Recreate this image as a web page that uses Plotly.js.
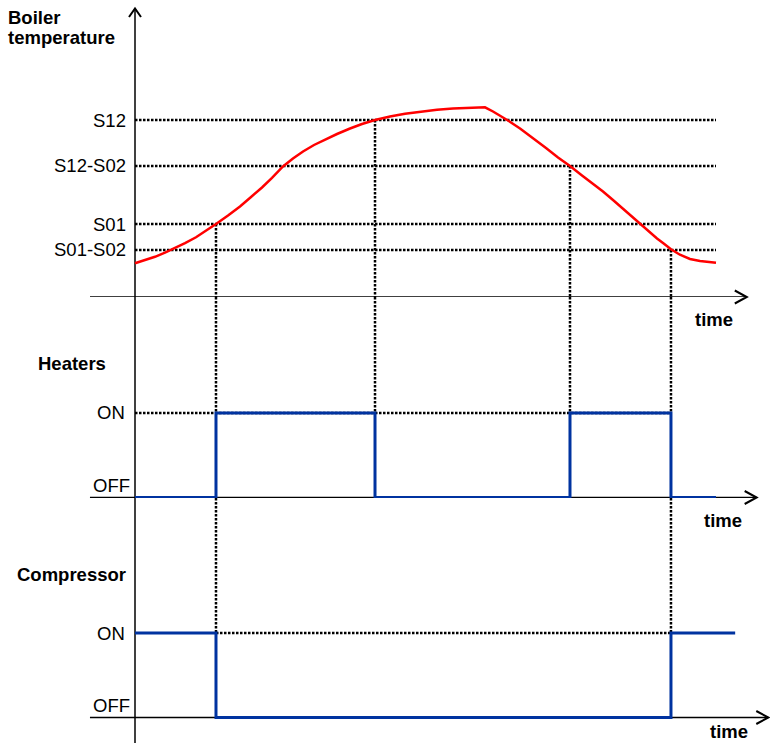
<!DOCTYPE html>
<html><head><meta charset="utf-8">
<script src="https://cdn.plot.ly/plotly-3.0.1.min.js"></script>
<style>html,body{margin:0;padding:0;background:#fff}#chart{width:770px;height:743px}</style>
</head><body><div id="chart"></div>
<script>
// ---- data ----
const time = [0, 1.72, 3.44, 5.16, 6.88, 8.61, 10.50, 12.22, 13.94, 16.01, 18.07, 19.97, 21.86, 23.58, 25.47, 27.19, 28.92, 30.81, 32.70, 34.77, 37.01, 39.07, 41.31, 43.89, 46.47, 49.05, 51.98, 54.73, 57.66, 60.24, 61.62, 62.82, 64.20, 66.27, 68.50, 70.74, 72.81, 74.87, 76.94, 78.83, 80.55, 82.27, 84.34, 86.57, 88.30, 89.85, 91.05, 92.25, 93.80, 95.52, 97.25, 98.62, 100];
const boilerTemp = [11.23, 12.27, 13.40, 14.80, 16.27, 17.93, 19.90, 22.00, 24.33, 27.17, 30.17, 33.33, 36.50, 39.73, 43.50, 46.17, 48.50, 50.67, 52.50, 54.33, 56.17, 57.67, 59.00, 60.17, 61.07, 61.77, 62.40, 62.83, 63.10, 63.23, 61.83, 60.50, 58.83, 56.17, 53.00, 49.67, 46.50, 43.67, 40.50, 37.83, 35.17, 32.33, 28.83, 24.83, 21.93, 19.50, 17.73, 15.90, 14.10, 12.67, 12.00, 11.60, 11.40];
const thresholdLabels = ['S12', 'S12-S02', 'S01', 'S01-S02'];
const thresholdValues = [59.0, 43.67, 24.33, 15.67];
const eventTimes = [13.94, 41.31, 74.87, 92.25];
const eventThresholds = ['S01', 'S12', 'S12-S02', 'S01-S02'];
const heaterTimes = [0, 13.94, 41.31, 74.87, 92.25, 100];
const heaterState = [0, 1, 0, 1, 0, 0];
const compressorTimes = [0, 13.94, 92.25, 103.3];
const compressorState = [1, 0, 1, 1];
const stateLabels = ['OFF', 'ON'];
const panelTitles = ['Boiler', 'temperature', 'Heaters', 'Compressor'];
const axisLabel = 'time';

// ---- geometry (layout only) ----
const W = 770, H = 743, X0 = 135, PXT = 5.81;
const xRange = [-X0 / PXT, (W - X0) / PXT];
function panel(pTop, pBot, base, scale) {
  return {domain: [1 - pBot / H, 1 - pTop / H], range: [(base - pBot) / scale, (base - pTop) / scale], base: base};
}
const P1 = panel(0, 297, 297, 3), P2 = panel(297, 498, 497.5, 84.5), P3 = panel(498, 743, 717.5, 84.5);
const FONT = 'Liberation Sans, Arial, sans-serif';
const dotted = {color: '#000', width: 2.5, dash: '2.5px,1.5px'};
const axisLine = {color: '#000', width: 1.5};
const BLUE = '#0033a0';

const traces = [
  {x: time, y: boilerTemp, xaxis: 'x', yaxis: 'y', mode: 'lines',
   line: {color: '#ff0000', width: 2.5}},
  {x: heaterTimes, y: heaterState, xaxis: 'x', yaxis: 'y2', mode: 'lines',
   line: {color: BLUE, width: 3, shape: 'hv'}},
  {x: compressorTimes, y: compressorState, xaxis: 'x', yaxis: 'y3', mode: 'lines',
   line: {color: BLUE, width: 3, shape: 'hv'}}
];

const shapes = [];
// threshold guide lines
thresholdValues.forEach(v => shapes.push({type: 'line', xref: 'x', yref: 'y', x0: 0, x1: 100, y0: v, y1: v, line: dotted, layer: 'below'}));
// ON guide lines
shapes.push({type: 'line', xref: 'x', yref: 'y2', x0: 0, x1: eventTimes[3], y0: 1, y1: 1, line: dotted, layer: 'below'});
shapes.push({type: 'line', xref: 'x', yref: 'y3', x0: eventTimes[0], x1: eventTimes[3], y0: 1, y1: 1, line: dotted, layer: 'below'});
// vertical event guides
eventTimes.forEach((t, i) => {
  const lvl = thresholdValues[thresholdLabels.indexOf(eventThresholds[i])];
  shapes.push({type: 'line', xref: 'x', yref: 'y', x0: t, x1: t, y0: lvl, y1: P1.range[0], line: dotted, layer: 'below'});
  shapes.push({type: 'line', xref: 'x', yref: 'y2', x0: t, x1: t, y0: P2.range[1], y1: 1, line: dotted, layer: 'below'});
  if (compressorTimes.indexOf(t) >= 0) {
    shapes.push({type: 'line', xref: 'x', yref: 'y2', x0: t, x1: t, y0: 0, y1: P2.range[0], line: dotted, layer: 'below'});
    shapes.push({type: 'line', xref: 'x', yref: 'y3', x0: t, x1: t, y0: P3.range[1], y1: 1, line: dotted, layer: 'below'});
  }
});
// axes with arrows
shapes.push({type: 'line', xref: 'x', yref: 'paper', x0: 0, x1: 0, y0: 0, y1: 1 - 8.5 / H, line: axisLine, layer: 'below'});
const pyY = p => 1 - p / H;
shapes.push({type: 'path', xref: 'paper', yref: 'paper', line: {color: '#000', width: 2},
  path: `M${(X0 - 6) / W},${pyY(17)} L${X0 / W},${pyY(8.5)} L${(X0 + 6) / W},${pyY(17)}`});
[['y', P1, 105.3], ['y2', P2, 107.0], ['y3', P3, 109.0]].forEach(([yr, P, tip]) => {
  shapes.push({type: 'line', xref: 'x', yref: yr, x0: -7.75, x1: tip, y0: 0, y1: 0, line: axisLine, layer: 'below'});
  const tx = X0 + PXT * tip, ty = P.base;
  shapes.push({type: 'path', xref: 'paper', yref: 'paper', line: {color: '#000', width: 2},
    path: `M${(tx - 12) / W},${pyY(ty - 6.5)} L${tx / W},${pyY(ty)} L${(tx - 12) / W},${pyY(ty + 6.5)}`});
});

const ann = [];
const txt = (o) => Object.assign({showarrow: false, font: {family: FONT, size: 18.5, color: '#000'}}, o);
ann.push(txt({text: '<b>' + panelTitles[0] + '</b>', xref: 'paper', yref: 'paper', x: 6 / W, y: pyY(17), xanchor: 'left', yanchor: 'middle'}));
ann.push(txt({text: '<b>' + panelTitles[1] + '</b>', xref: 'paper', yref: 'paper', x: 6 / W, y: pyY(38), xanchor: 'left', yanchor: 'middle'}));
ann.push(txt({text: '<b>' + panelTitles[2] + '</b>', xref: 'paper', yref: 'paper', x: 36 / W, y: pyY(363), xanchor: 'left', yanchor: 'middle'}));
ann.push(txt({text: '<b>' + panelTitles[3] + '</b>', xref: 'paper', yref: 'paper', x: 15 / W, y: pyY(574), xanchor: 'left', yanchor: 'middle'}));
[[714, 319], [723, 520], [729, 731]].forEach(([x, y]) =>
  ann.push(txt({text: '<b>' + axisLabel + '</b>', xref: 'paper', yref: 'paper', x: x / W, y: pyY(y), xanchor: 'center', yanchor: 'middle'})));
thresholdLabels.forEach((l, i) =>
  ann.push(txt({text: l, xref: 'x', yref: 'y', x: -1.2, y: thresholdValues[i], xanchor: 'right', yanchor: 'middle'})));
['y2', 'y3'].forEach(yr => {
  ann.push(txt({text: stateLabels[1], xref: 'x', yref: yr, x: -1.3, y: 1, xanchor: 'right', yanchor: 'middle'}));
  ann.push(txt({text: stateLabels[0], xref: 'x', yref: yr, x: -0.6, y: 0, yshift: 12, xanchor: 'right', yanchor: 'middle'}));
});

const yax = P => ({domain: P.domain, range: P.range, visible: false, fixedrange: true, anchor: 'x'});
const layout = {
  width: W, height: H, margin: {l: 0, r: 0, t: 0, b: 0},
  paper_bgcolor: '#fff', plot_bgcolor: 'rgba(0,0,0,0)', showlegend: false, hovermode: false,
  xaxis: {domain: [0, 1], range: xRange, visible: false, fixedrange: true},
  yaxis: yax(P1), yaxis2: yax(P2), yaxis3: yax(P3),
  shapes: shapes, annotations: ann
};
Plotly.newPlot('chart', traces, layout, {staticPlot: true, displayModeBar: false});
</script></body></html>
